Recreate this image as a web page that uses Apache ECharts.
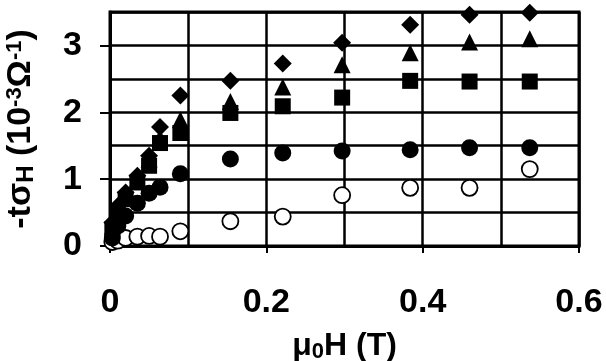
<!DOCTYPE html>
<html>
<head>
<meta charset="utf-8">
<script src="https://cdn.jsdelivr.net/npm/echarts@6/dist/echarts.min.js"></script>
<style>html,body{margin:0;padding:0;background:#fff}#c{width:606px;height:361px}</style>
</head>
<body>
<div id="c"></div>
<script>
// Field values (T), shared by all series
var fields = [0.003, 0.01, 0.02, 0.035, 0.05, 0.064, 0.09, 0.154, 0.221, 0.297, 0.384, 0.46, 0.537];
// -t sigma_H (10^-3 Ohm^-1)
var diamondVals  = [0.35, 0.6, 0.8, 1.05, 1.35, 1.78, 2.25, 2.47, 2.73, 3.04, 3.31, 3.46, 3.49];
var triangleVals = [0.3, 0.55, 0.75, 1.0, 1.3, 1.62, 1.89, 2.16, 2.38, 2.71, 2.89, 3.05, 3.1];
var squareVals   = [0.25, 0.5, 0.7, 0.95, 1.2, 1.54, 1.69, 1.99, 2.09, 2.22, 2.47, 2.46, 2.46];
var circleVals   = [0.12, 0.3, 0.45, 0.64, 0.79, 0.88, 1.08, 1.3, 1.39, 1.42, 1.44, 1.47, 1.47];
var openCircleVals = [0.06, 0.08, 0.12, 0.14, 0.15, 0.14, 0.22, 0.37, 0.44, 0.76, 0.87, 0.87, 1.15];
var xTickLabels = ['0', '0.2', '0.4', '0.6'];
var yTickLabels = ['0', '1', '2', '3'];

function pairs(vals){ return fields.map(function(x,i){ return [x, vals[i]]; }); }

var FONT = 'Liberation Sans';
var chart = echarts.init(document.getElementById('c'), null, {renderer:'canvas'});
var top0 = 12, bottom0 = 115, ymax = 3.5;
var plotH = 361 - bottom0 - top0;
var top3 = top0 + plotH * (ymax - 3) / ymax;

chart.setOption({
  animation: false,
  backgroundColor: '#fff',
  grid: [
    {left: 110, right: 27, top: top0, bottom: bottom0, show: true, borderColor: '#000', borderWidth: 3,
     backgroundColor: 'transparent', containLabel: false, outerBoundsMode: 'none'},
    {left: 110, right: 27, top: top3, bottom: bottom0, show: false, containLabel: false, outerBoundsMode: 'none'}
  ],
  xAxis: [{
    gridIndex: 0, type: 'value', min: 0, max: 0.6, interval: 0.2,
    axisLine: {show: true, onZero: false, lineStyle: {color: '#000', width: 3}},
    axisTick: {show: true, length: 7, lineStyle: {color: '#000', width: 2}},
    minorTick: {show: false, splitNumber: 2},
    splitLine: {show: true, lineStyle: {color: '#000', width: 2.5}},
    minorSplitLine: {show: true, lineStyle: {color: '#000', width: 2.5}},
    axisLabel: {margin: 40, color: '#000', fontFamily: FONT, fontWeight: 'bold', fontSize: 34,
      formatter: function(v){ return xTickLabels[Math.round(v / 0.2)]; }},
    name: '{a|μ}{s|0}{a|H (T)}', nameLocation: 'middle', nameGap: 83,
    nameTextStyle: {rich: {
      a: {fontFamily: FONT, fontWeight: 'bold', fontSize: 32, color: '#000'},
      s: {fontFamily: FONT, fontWeight: 'bold', fontSize: 22, color: '#000', verticalAlign: 'bottom', padding: [12,0,0,0]}
    }}
  }, {
    gridIndex: 1, type: 'value', min: 0, max: 0.6, show: false
  }],
  yAxis: [{
    gridIndex: 0, type: 'value', min: 0, max: ymax, interval: 0.5,
    axisLine: {show: true, onZero: false, lineStyle: {color: '#000', width: 3}},
    axisTick: {show: false},
    splitLine: {show: true, lineStyle: {color: '#000', width: 2.5}},
    axisLabel: {margin: 28, color: '#000', fontFamily: FONT, fontWeight: 'bold', fontSize: 34,
      formatter: function(v){ return (Math.abs(v - Math.round(v)) < 1e-9 && v < 3.4) ? yTickLabels[Math.round(v)] : ''; }},
    name: '{a|-tσ}{h|H}{a| (10}{p|-3}{a|Ω}{p|-1}{a|)}', nameLocation: 'middle', nameGap: 72, nameRotate: 90,
    nameTextStyle: {rich: {
      a: {fontFamily: FONT, fontWeight: 'bold', fontSize: 34, color: '#000'},
      h: {fontFamily: FONT, fontWeight: 'bold', fontSize: 24, color: '#000', verticalAlign: 'bottom'},
      p: {fontFamily: FONT, fontWeight: 'bold', fontSize: 22, color: '#000', verticalAlign: 'top'}
    }}
  }, {
    gridIndex: 1, type: 'value', min: 0, max: 3, interval: 1,
    axisLine: {show: false},
    axisTick: {show: true, length: 10, lineStyle: {color: '#000', width: 2}},
    axisLabel: {show: false},
    splitLine: {show: false}
  }],
  series: [
    {type: 'scatter', name: 'open', data: pairs(openCircleVals), symbol: 'circle', symbolSize: 16,
      itemStyle: {color: '#fff', borderColor: '#000', borderWidth: 1.8, opacity: 1}, z: 2},
    {type: 'scatter', name: 'circle', data: pairs(circleVals), symbol: 'circle', symbolSize: 17,
      itemStyle: {color: '#000', opacity: 1}, z: 3},
    {type: 'scatter', name: 'square', data: pairs(squareVals), symbol: 'rect', symbolSize: 16,
      itemStyle: {color: '#000', opacity: 1}, z: 4},
    {type: 'scatter', name: 'triangle', data: pairs(triangleVals), symbol: 'triangle', symbolSize: 17,
      itemStyle: {color: '#000', opacity: 1}, z: 5},
    {type: 'scatter', name: 'diamond', data: pairs(diamondVals), symbol: 'diamond', symbolSize: 18,
      itemStyle: {color: '#000', opacity: 1}, z: 6}
  ]
});
</script>
</body>
</html>
